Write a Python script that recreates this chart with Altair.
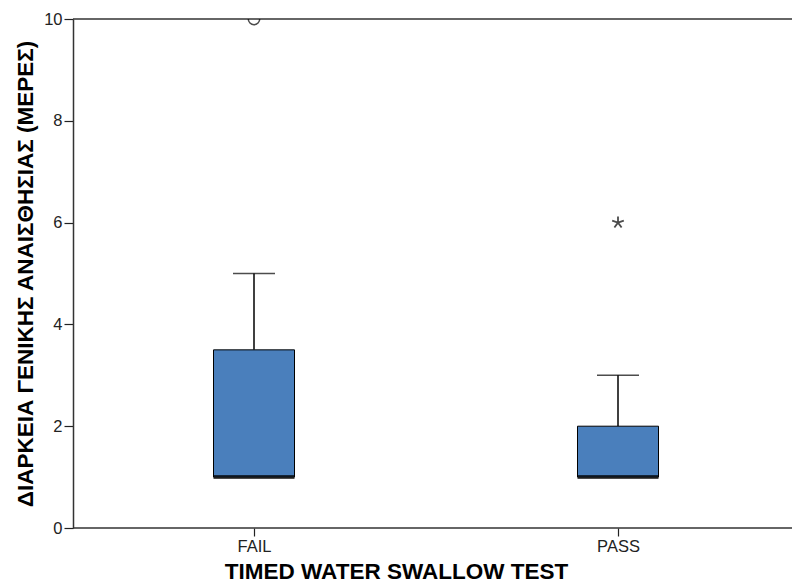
import altair as alt
import pandas as pd

groups = ["FAIL", "PASS"]
q1 = [1, 1]
median = [1, 1]
q3 = [3.5, 2]
whisker_low = [1, 1]
whisker_high = [5, 3]

out_groups = ["FAIL", "PASS"]
out_values = [10, 6]
out_kind = ["circle", "star"]

frame_values = [0, 10]

boxes = pd.DataFrame({"group": groups, "q1": q1, "median": median, "q3": q3,
                      "lo": whisker_low, "hi": whisker_high})
outliers = pd.DataFrame({"group": out_groups, "value": out_values, "kind": out_kind})
frame = pd.DataFrame({"v": frame_values})

FONT = "Liberation Sans"
fill = "#4a7fbc"

xscale = alt.Scale(type="point", domain=groups, range=[181, 545], padding=0)
yscale = alt.Scale(domain=[0, 10], nice=False)

x_enc = alt.X("group:N", scale=xscale,
              axis=alt.Axis(title="TIMED WATER SWALLOW TEST", labelAngle=0,
                            labelFontSize=16.5, labelColor="#222", labelFont=FONT,
                            labelPadding=2, tickSize=8, tickColor="#222",
                            domain=False, tickWidth=1.2,
                            titleFont=FONT, titleFontSize=22.5, titleFontWeight="bold",
                            titleColor="#000", titlePadding=6,
                            titleX=323, titleAnchor="start", titleAlign="center"))
y_axis = alt.Axis(title="ΔΙΑΡΚΕΙΑ ΓΕΝΙΚΗΣ ΑΝΑΙΣΘΗΣΙΑΣ (ΜΕΡΕΣ)", values=[0, 2, 4, 6, 8, 10],
                  grid=False, labelFontSize=16.5, labelColor="#222", labelFont=FONT,
                  labelPadding=2, tickSize=9, tickColor="#222", tickWidth=1.2,
                  domainColor="#333", domainWidth=1.5,
                  titleFont=FONT, titleFontSize=22.5, titleFontWeight="bold",
                  titleColor="#000", titlePadding=6)

base = alt.Chart(boxes)

whisker = base.mark_rule(color="#000", strokeWidth=1.5).encode(
    x=x_enc, y=alt.Y("q3:Q", scale=yscale, axis=y_axis), y2="hi:Q")

cap = base.mark_tick(color="#000", size=42, thickness=1.5, orient="horizontal").encode(
    x=alt.X("group:N", scale=xscale), y=alt.Y("hi:Q", scale=yscale))

box = base.mark_bar(size=81, fill=fill, stroke="#000", strokeWidth=1).encode(
    x=alt.X("group:N", scale=xscale), y=alt.Y("q3:Q", scale=yscale), y2="q1:Q")

med = base.mark_tick(color="#000", size=81, thickness=4, orient="horizontal").encode(
    x=alt.X("group:N", scale=xscale), y=alt.Y("median:Q", scale=yscale))

frame_lines = alt.Chart(frame).mark_rule(color="#333", strokeWidth=1.5).encode(
    y=alt.Y("v:Q", scale=yscale), x=alt.value(0), x2=alt.value(730))

circ = alt.Chart(outliers).transform_filter(alt.datum.kind == "circle").mark_point(
    shape="circle", filled=False, size=130, stroke="#000", strokeWidth=1.5, clip=True
).encode(x=alt.X("group:N", scale=xscale), y=alt.Y("value:Q", scale=yscale))

star_path = ("M0,0L0,-1M0,0L-0.951,-0.309M0,0L-0.588,0.809"
             "M0,0L0.588,0.809M0,0L0.951,-0.309")
star = alt.Chart(outliers).transform_filter(alt.datum.kind == "star").mark_point(
    shape=star_path, filled=False, size=150, stroke="#000", strokeWidth=1.8
).encode(x=alt.X("group:N", scale=xscale), y=alt.Y("value:Q", scale=yscale))

chart = alt.layer(whisker, cap, box, med, frame_lines, circ, star).properties(
    width=719, height=509,
    autosize=alt.AutoSizeParams(type="none"),
    padding={"left": 73, "top": 19, "right": 0, "bottom": 57},
    background="white",
).configure_view(stroke=None)

chart.save("out.html", embed_options={"renderer": "svg", "actions": False})
